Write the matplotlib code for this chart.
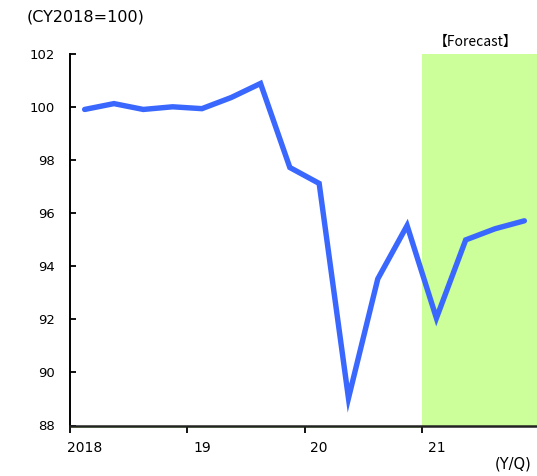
import matplotlib
matplotlib.use("Agg")
import matplotlib.pyplot as plt
import matplotlib.transforms as mtransforms
import numpy as np

# quarterly index, CY2018=100 (2018Q1 .. 2021Q4)
quarters = ["2018Q1", "2018Q2", "2018Q3", "2018Q4",
            "2019Q1", "2019Q2", "2019Q3", "2019Q4",
            "2020Q1", "2020Q2", "2020Q3", "2020Q4",
            "2021Q1", "2021Q2", "2021Q3", "2021Q4"]
index_values = [99.92, 100.14, 99.92, 100.02,
                99.95, 100.37, 100.90, 97.73,
                97.13, 89.03, 93.53, 95.54,
                92.05, 95.00, 95.42, 95.72]
year_labels = ["2018", "19", "20", "21"]
forecast_start = "2021Q1"

line_color = "#3a68ff"
shade_color = "#ccff99"

fig = plt.figure(figsize=(5.37, 4.76), dpi=100)
ax = fig.add_axes([70 / 537, 1 - 425.5 / 476, 469 / 537, (425.5 - 54.3) / 476])

x = np.arange(len(quarters))
fc = quarters.index(forecast_start)

ax.axvspan(fc - 0.5, len(quarters) - 0.5, color=shade_color, lw=0, zorder=0)
ax.plot(x, index_values, color=line_color, lw=3.9, solid_capstyle="round",
        solid_joinstyle="miter", zorder=3)

# thin green line just under the axis (left of forecast)
off = mtransforms.ScaledTranslation(0, -1.2 / 72, fig.dpi_scale_trans)
ax.plot([-0.5, fc - 0.5], [88, 88], color=shade_color, lw=1.2,
        transform=ax.transData + off, clip_on=False, zorder=1)

ax.set_xlim(-0.5, len(quarters) - 0.5)
ax.set_ylim(88, 102)
ax.set_yticks(np.arange(88, 103, 2))
ax.tick_params(axis="y", direction="in", length=4, width=1.3, pad=11,
               labelsize=9.5, colors="black")

year_starts = [quarters.index(f"{2018 + i}Q1") for i in range(len(year_labels))]
ax.set_xticks([s - 0.5 for s in year_starts])
ax.set_xticklabels([])
ax.tick_params(axis="x", which="major", direction="out", length=5, width=1.3)
ax.set_xticks(year_starts, minor=True)
ax.set_xticklabels(year_labels, minor=True)
ax.tick_params(axis="x", which="minor", length=0, pad=11, labelsize=10)

for s in ["top", "right"]:
    ax.spines[s].set_visible(False)
ax.spines["left"].set_linewidth(1.4)
ax.spines["bottom"].set_linewidth(1.8)
ax.spines["bottom"].set_color("#222222")

fig.text(27 / 537, 1 - 17 / 476, "(CY2018=100)", fontsize=11.5, va="center", ha="left")
fig.text(531 / 537, 1 - 464 / 476, "(Y/Q)", fontsize=10.5, va="center", ha="right")
fig.text(434 / 537, 1 - 42 / 476, "【Forecast】", fontsize=10, ha="left", va="center",
         family=["Noto Sans CJK JP", "DejaVu Sans"])

fig.savefig("out.png", dpi=100)
